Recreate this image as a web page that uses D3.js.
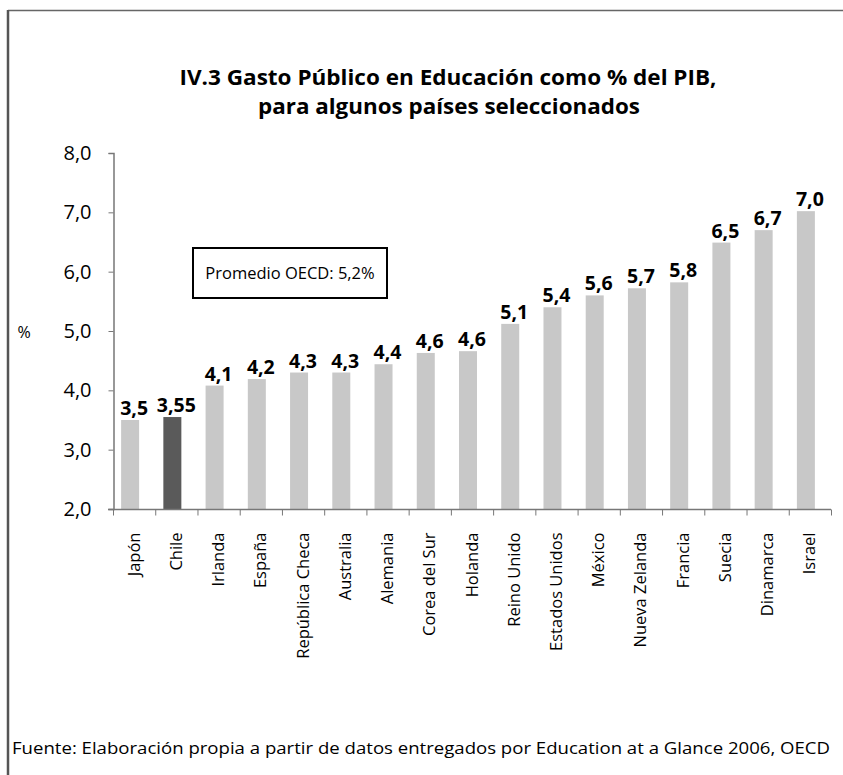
<!DOCTYPE html>
<html>
<head>
<meta charset="utf-8">
<script src="https://cdn.jsdelivr.net/npm/d3@7"></script>
<style>
  html, body { margin: 0; padding: 0; background: #fff; }
  svg { display: block; font-family: "Open Sans", "DejaVu Sans", sans-serif; }
</style>
</head>
<body>
<svg id="chart" width="843" height="775"></svg>
<script>
"use strict"

// data
var countries = ["Japón", "Chile", "Irlanda", "España", "República Checa", "Australia",
                 "Alemania", "Corea del Sur", "Holanda", "Reino Unido", "Estados Unidos",
                 "México", "Nueva Zelanda", "Francia", "Suecia", "Dinamarca", "Israel"];
var values = [3.5, 3.55, 4.08, 4.19, 4.3, 4.3, 4.44, 4.63, 4.66, 5.12, 5.4, 5.6, 5.72, 5.82, 6.49, 6.7, 7.02];
var labels = ["3,5", "3,55", "4,1", "4,2", "4,3", "4,3", "4,4", "4,6", "4,6", "5,1", "5,4",
              "5,6", "5,7", "5,8", "6,5", "6,7", "7,0"];
var yTicks = [2, 3, 4, 5, 6, 7, 8];
var highlight = "Chile";

var svg = d3.select("#chart");

// outer frame (runs off the right and bottom edges)
svg.append("line").attr("x1", 8).attr("y1", 10.5).attr("x2", 850).attr("y2", 10.5)
   .attr("stroke", "#666").attr("stroke-width", 1.5);
svg.append("line").attr("x1", 8).attr("y1", 10).attr("x2", 8).attr("y2", 780)
   .attr("stroke", "#555").attr("stroke-width", 2.5);

// title, two lines
svg.append("text").attr("x", 448).attr("y", 85).attr("text-anchor", "middle")
   .attr("font-weight", "bold").attr("font-size", 21)
   .attr("textLength", 537).attr("lengthAdjust", "spacingAndGlyphs")
   .text("IV.3 Gasto Público en Educación como % del PIB,");
svg.append("text").attr("x", 449).attr("y", 114).attr("text-anchor", "middle")
   .attr("font-weight", "bold").attr("font-size", 21)
   .attr("textLength", 382).attr("lengthAdjust", "spacingAndGlyphs")
   .text("para algunos países seleccionados");

var x = d3.scaleBand().domain(countries).range([113, 831]);
var y = d3.scaleLinear().domain([2, 8]).range([509, 153]);

// y axis
var yAxis = svg.append("g").attr("transform", "translate(113.5,0)")
   .call(d3.axisLeft(y).tickValues(yTicks).tickSize(5).tickPadding(17)
      .tickFormat(function(d) { return d3.format(".1f")(d).replace(".", ","); }))
   .attr("font-family", null).attr("font-size", null);
yAxis.select(".domain").attr("stroke", "#777").attr("stroke-width", 1.5);
yAxis.selectAll(".tick line").attr("stroke", "#777");
yAxis.selectAll(".tick text").attr("font-size", 20).attr("fill", "#000");

svg.append("text").attr("x", 24).attr("y", 338).attr("text-anchor", "middle")
   .attr("font-size", 16).text("%");

// bars
var barW = 18;
svg.selectAll("rect.bar").data(countries).enter().append("rect")
   .attr("class", "bar")
   .attr("x", function(d) { return x(d) + x.bandwidth() / 2 - 4 - barW / 2; })
   .attr("y", function(d, i) { return y(values[i]); })
   .attr("width", barW)
   .attr("height", function(d, i) { return y(2) - y(values[i]); })
   .attr("fill", function(d) { return d === highlight ? "#5a5a5a" : "#c8c8c8"; });

// value labels
svg.selectAll("text.val").data(countries).enter().append("text")
   .attr("class", "val")
   .attr("x", function(d) { return x(d) + x.bandwidth() / 2; })
   .attr("y", function(d, i) { return y(values[i]) - 5; })
   .attr("text-anchor", "middle")
   .attr("font-weight", "bold").attr("font-size", 19.5)
   .text(function(d, i) { return labels[i]; });

// x axis with ticks between categories
var xAxis = svg.append("g").attr("transform", "translate(0,509.5)");
xAxis.append("line").attr("x1", 108).attr("x2", 831).attr("stroke", "#777").attr("stroke-width", 1.5);
xAxis.selectAll("line.tk").data(d3.range(countries.length + 1)).enter().append("line")
   .attr("class", "tk")
   .attr("x1", function(i) { return 113.5 + i * x.step(); })
   .attr("x2", function(i) { return 113.5 + i * x.step(); })
   .attr("y1", 0).attr("y2", 6).attr("stroke", "#777");
xAxis.selectAll("text").data(countries).enter().append("text")
   .attr("transform", function(d) { return "translate(" + (x(d) + x.bandwidth() / 2 + 5.5) + ",23) rotate(-90)"; })
   .attr("text-anchor", "end")
   .attr("font-size", 16.5)
   .text(function(d) { return d; });

// OECD average box
svg.append("rect").attr("x", 193).attr("y", 248).attr("width", 194).attr("height", 50)
   .attr("fill", "#fff").attr("stroke", "#000").attr("stroke-width", 2);
svg.append("text").attr("x", 290).attr("y", 279).attr("text-anchor", "middle")
   .attr("font-size", 16.5).text("Promedio OECD: 5,2%");

// source
svg.append("text").attr("x", 12).attr("y", 754)
   .attr("font-size", 17).attr("textLength", 818).attr("lengthAdjust", "spacingAndGlyphs")
   .text("Fuente: Elaboración propia a partir de datos entregados por Education at a Glance 2006, OECD");
</script>
</body>
</html>
